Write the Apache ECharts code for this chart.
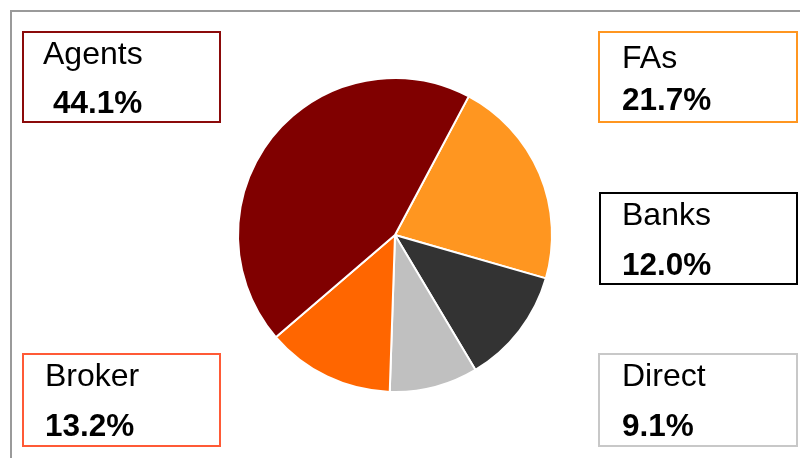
<!DOCTYPE html>
<html>
<head>
<meta charset="utf-8">
<script src="https://cdn.jsdelivr.net/npm/echarts@6/dist/echarts.min.js"></script>
<style>
  html, body { margin: 0; padding: 0; background: #fff; }
  #chart { width: 800px; height: 458px; }
</style>
</head>
<body>
<div id="chart"></div>
<script>
// Distribution channels, clockwise from the top-right slice
const channels = ['FAs', 'Banks', 'Direct', 'Broker', 'Agents'];
const shares = [21.7, 12.0, 9.1, 13.2, 44.1];
const sliceColors = ['#FF9620', '#333333', '#C0C0C0', '#FF6600', '#800000'];
const boxColors = ['#FF9620', '#000000', '#C8C8C8', '#FF5A36', '#8B0A0A'];

// Callout box placement for each channel (same order as above)
const boxes = [
  { x: 599, y: 32, w: 198, h: 90, tx: 622, px: 622, ly: 59, py: 101 },
  { x: 600, y: 193, w: 197, h: 91, tx: 622, px: 622, ly: 216, py: 266 },
  { x: 599, y: 354, w: 198, h: 92, tx: 622, px: 622, ly: 377.5, py: 427.5 },
  { x: 23, y: 354, w: 197, h: 92, tx: 45, px: 45, ly: 377.5, py: 427.5 },
  { x: 23, y: 32, w: 197, h: 90, tx: 43, px: 53, ly: 55, py: 104.5 }
];

const font = '"Liberation Sans", Arial, sans-serif';
const graphics = [
  {
    type: 'polyline',
    shape: { points: [[11, 470], [11, 11], [820, 11]] },
    style: { stroke: '#9A9A9A', lineWidth: 2, fill: null },
    silent: true
  }
];

channels.forEach((name, i) => {
  const b = boxes[i];
  graphics.push({
    type: 'rect',
    shape: { x: b.x, y: b.y, width: b.w, height: b.h },
    style: { fill: '#fff', stroke: boxColors[i], lineWidth: 2 },
    silent: true
  });
  graphics.push({
    type: 'text',
    x: b.tx, y: b.ly,
    style: { text: name, font: '32px ' + font, fill: '#000', verticalAlign: 'middle', align: 'left' },
    silent: true
  });
  graphics.push({
    type: 'text',
    x: b.px, y: b.py,
    style: { text: shares[i].toFixed(1) + '%', font: 'bold 31.5px ' + font, fill: '#000', verticalAlign: 'middle', align: 'left' },
    silent: true
  });
});

const chart = echarts.init(document.getElementById('chart'), null, { renderer: 'canvas' });
chart.setOption({
  animation: false,
  backgroundColor: '#fff',
  graphic: graphics,
  series: [{
    type: 'pie',
    center: [395, 235],
    radius: 157,
    startAngle: 62,
    clockwise: true,
    label: { show: false },
    labelLine: { show: false },
    emphasis: { disabled: true },
    itemStyle: { borderColor: '#fff', borderWidth: 2 },
    data: channels.map((name, i) => ({ name, value: shares[i], itemStyle: { color: sliceColors[i] } }))
  }]
});
</script>
</body>
</html>
